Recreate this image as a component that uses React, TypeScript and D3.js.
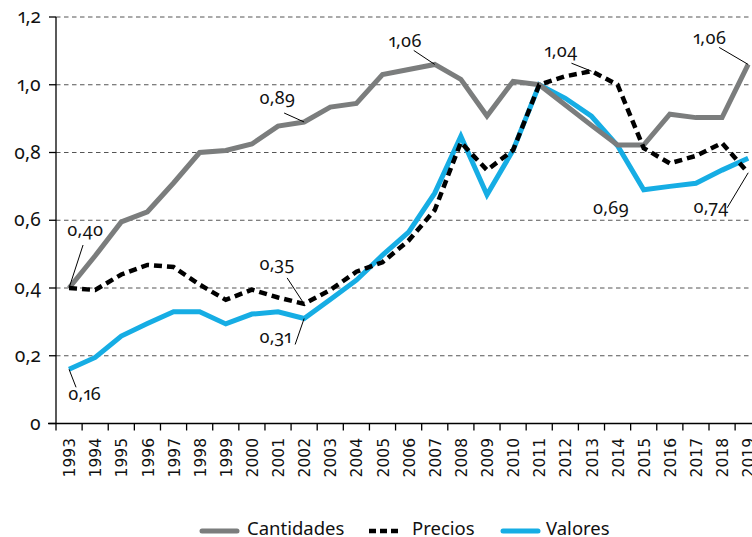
import React from "react";
import * as d3 from "d3";

const years: number[] = d3.range(1993, 2020);

const cantidades: number[] = [
  0.40, 0.495, 0.595, 0.625, 0.71, 0.80, 0.806, 0.825, 0.878, 0.89,
  0.934, 0.945, 1.03, 1.045, 1.06, 1.016, 0.908, 1.01, 1.0, 0.94,
  0.88, 0.822, 0.822, 0.913, 0.903, 0.903, 1.06,
];

const precios: number[] = [
  0.40, 0.394, 0.44, 0.468, 0.462, 0.41, 0.365, 0.395, 0.372, 0.353,
  0.394, 0.448, 0.476, 0.54, 0.63, 0.83, 0.748, 0.807, 1.0, 1.025,
  1.04, 1.0, 0.813, 0.768, 0.79, 0.828, 0.74,
];

const valores: number[] = [
  0.16, 0.195, 0.258, 0.295, 0.33, 0.33, 0.294, 0.323, 0.33, 0.31,
  0.366, 0.423, 0.497, 0.565, 0.68, 0.848, 0.675, 0.807, 1.0, 0.96,
  0.907, 0.82, 0.69, 0.70, 0.709, 0.748, 0.783,
];

const yTicks: number[] = [0, 0.2, 0.4, 0.6, 0.8, 1.0, 1.2];
const seriesNames: string[] = ["Cantidades", "Precios", "Valores"];

const fmt = (v: number) => (v === 0 ? "0" : v.toFixed(1).replace(".", ","));
const fmt2 = (v: number) => v.toFixed(2).replace(".", ",");

// annotation layout (offsets relative to the anchored data point)
const annotations = [
  { s: 0, year: 1993, value: 0.40, tx: -2, ty: -52, lx: 14, ly: -43 },
  { s: 2, year: 1993, value: 0.16, tx: -1, ty: 31, lx: 7, ly: 18 },
  { s: 1, year: 2002, value: 0.35, tx: -45, ty: -34, lx: -17, ly: -26 },
  { s: 2, year: 2002, value: 0.31, tx: -45, ty: 25, lx: -9, ly: 26 },
  { s: 0, year: 2002, value: 0.89, tx: -45, ty: -18, lx: -20, ly: -9 },
  { s: 0, year: 2007, value: 1.06, tx: -46, ty: -17, lx: -21, ly: -14 },
  { s: 1, year: 2013, value: 1.04, tx: -47, ty: -14, lx: -20, ly: -8 },
  { s: 0, year: 2019, value: 1.06, tx: -55, ty: -20, lx: -29, ly: -17 },
  { s: 2, year: 2015, value: 0.69, tx: -51, ty: 24, lx: null, ly: null },
  { s: 1, year: 2019, value: 0.74, tx: -55, ty: 40, lx: -21, ly: 35 },
];

export default function App() {
  const W = 752;
  const H = 537;
  const left = 56;
  const top = 17;
  const bottom = 423.5;
  const bandW = 26.12;

  const x = d3
    .scaleBand<number>()
    .domain(years)
    .range([left, left + bandW * years.length])
    .padding(0);
  const cx = (yr: number) => (x(yr) as number) + x.bandwidth() / 2;
  const y = d3.scaleLinear().domain([0, 1.2]).range([bottom, top]);

  const line = d3
    .line<number>()
    .x((_, i) => cx(years[i]))
    .y((d) => y(d));

  const seriesData = [cantidades, precios, valores];
  const colors = ["#7b7d7d", "#000000", "#16ade4"];

  const numFont = {
    fontFamily: "'Noto Sans', sans-serif",
    fontVariantNumeric: "oldstyle-nums proportional-nums",
  } as React.CSSProperties;

  const boundaries = d3.range(years.length + 1).map((i) => left + i * x.bandwidth());

  return (
    <svg width={W} height={H} style={{ display: "block", position: "absolute", left: 0, top: 0 }}>
      <rect x={0} y={0} width={W} height={H} fill="#fff" />
      {/* grid */}
      {yTicks
        .filter((t) => t > 0)
        .map((t) => (
          <line
            key={"g" + t}
            x1={left}
            x2={W}
            y1={y(t)}
            y2={y(t)}
            stroke="#555"
            strokeWidth={1}
            strokeDasharray="4.5,3.5"
          />
        ))}
      {/* y axis */}
      <line x1={left} x2={left} y1={top} y2={bottom} stroke="#000" strokeWidth={1.3} />
      {yTicks.map((t) => (
        <g key={"yt" + t}>
          <line x1={left - 7} x2={left} y1={y(t)} y2={y(t)} stroke="#000" strokeWidth={1.3} />
          <text
            x={41}
            y={y(t)}
            dy="0.32em"
            textAnchor="end"
            fontSize={19}
            fill="#111"
            style={numFont}
          >
            {fmt(t)}
          </text>
        </g>
      ))}
      {/* x axis */}
      <line x1={48} x2={W} y1={bottom} y2={bottom} stroke="#000" strokeWidth={1.3} />
      {boundaries.map((b, i) => (
        <line key={"xt" + i} x1={b} x2={b} y1={bottom} y2={bottom + 7} stroke="#000" strokeWidth={1.3} />
      ))}
      {years.map((yr) => (
        <text
          key={"xl" + yr}
          transform={`translate(${cx(yr) + 0.5},438) rotate(-90)`}
          dy="0.36em"
          textAnchor="end"
          fontSize={15.5}
          fontFamily="'DejaVu Sans', sans-serif"
          fill="#111"
        >
          {yr}
        </text>
      ))}
      {/* series: valores, cantidades, precios */}
      <path d={line(valores) || ""} fill="none" stroke={colors[2]} strokeWidth={5} strokeLinejoin="miter" />
      <path d={line(cantidades) || ""} fill="none" stroke={colors[0]} strokeWidth={5} strokeLinejoin="miter" />
      <path
        d={line(precios) || ""}
        fill="none"
        stroke={colors[1]}
        strokeWidth={4.5}
        strokeDasharray="8,5"
        strokeLinejoin="miter"
      />
      {/* annotations */}
      {annotations.map((a, i) => {
        const px = cx(a.year);
        const py = y(seriesData[a.s][years.indexOf(a.year)]);
        return (
          <g key={"an" + i}>
            {a.lx !== null && (
              <line x1={px + (a.lx as number)} y1={py + (a.ly as number)} x2={px} y2={py} stroke="#000" strokeWidth={1} />
            )}
            <text x={px + a.tx} y={py + a.ty} fontSize={18} fill="#111" style={numFont}>
              {fmt2(a.value)}
            </text>
          </g>
        );
      })}
      {/* legend */}
      {[
        { x1: 202, x2: 237, tx: 247 },
        { x1: 369, x2: 399, tx: 412 },
        { x1: 503, x2: 538, tx: 546 },
      ].map((l, i) => (
        <g key={"lg" + i}>
          <line
            x1={l.x1}
            x2={l.x2}
            y1={531}
            y2={531}
            stroke={colors[i]}
            strokeWidth={i === 1 ? 4.5 : 5}
            strokeLinecap={i === 1 ? "butt" : "round"}
            strokeDasharray={i === 1 ? "7,4" : undefined}
          />
          <text x={l.tx} y={535} fontSize={18.5} fontFamily="'Noto Sans', sans-serif" fill="#111">
            {seriesNames[i]}
          </text>
        </g>
      ))}
    </svg>
  );
}
